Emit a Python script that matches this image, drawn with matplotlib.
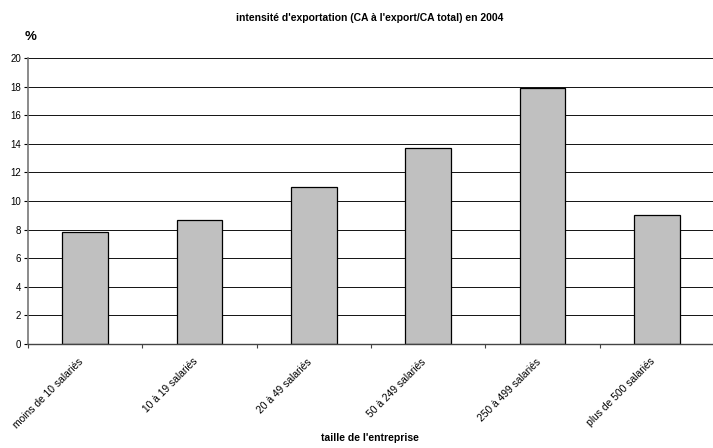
import matplotlib
matplotlib.use("Agg")
import matplotlib.pyplot as plt
import matplotlib.transforms as mtransforms
import numpy as np

plt.rcParams['font.family'] = ['Liberation Sans', 'DejaVu Sans']

# intensité d'exportation par taille d'entreprise, 2004
categories = ["moins de 10 salariés", "10 à 19 salariés", "20 à 49 salariés",
              "50 à 249 salariés", "250 à 499 salariés", "plus de 500 salariés"]
values = [7.8, 8.7, 11.0, 13.7, 17.9, 9.0]
yticks = [0, 2, 4, 6, 8, 10, 12, 14, 16, 18, 20]

fig = plt.figure(figsize=(7.13, 4.48), dpi=100)
ax = fig.add_axes([28 / 713, 1 - 344 / 448, 686 / 713, 286 / 448])

x = np.arange(len(categories))
ax.set_axisbelow(True)
ax.yaxis.grid(True, color="#111111", linewidth=0.7)
ax.bar(x, values, width=0.4, color="#c0c0c0", edgecolor="black", linewidth=0.9)

ax.set_xlim(-0.5, len(categories) - 0.5)
ax.set_ylim(0, 20)
ax.set_yticks(yticks)
ax.tick_params(axis="y", labelsize=7, length=3, width=0.8, pad=2)

# category labels at bar centres, tick marks on boundaries
ax.set_xticks(x)
ax.set_xticklabels(categories, rotation=45, ha="right", rotation_mode="anchor", fontsize=7.4)
ax.tick_params(axis="x", which="major", length=0, pad=9)
shift = mtransforms.ScaledTranslation(-7 / 100, 0, fig.dpi_scale_trans)
for lbl in ax.get_xticklabels():
    lbl.set_transform(lbl.get_transform() + shift)
ax.set_xticks(np.arange(len(categories) + 1) - 0.5, minor=True)
ax.tick_params(axis="x", which="minor", length=3, width=0.8, color="#444444")

for s in ["top", "right"]:
    ax.spines[s].set_visible(False)
ax.spines["left"].set_color("#777777")
ax.spines["left"].set_linewidth(1.2)
ax.spines["bottom"].set_color("#444444")
ax.spines["bottom"].set_linewidth(1.0)

fig.text(370 / 713, 1 - 18 / 448, "intensité d'exportation (CA à l'export/CA total) en 2004",
         ha="center", va="center", fontsize=7.5, fontweight="bold")
fig.text(31 / 713, 1 - 37 / 448, "%", ha="center", va="center", fontsize=9.5, fontweight="bold")
fig.text(370 / 713, 1 - 438 / 448, "taille de l'entreprise",
         ha="center", va="center", fontsize=7.5, fontweight="bold")

fig.savefig("out.png", dpi=100)
